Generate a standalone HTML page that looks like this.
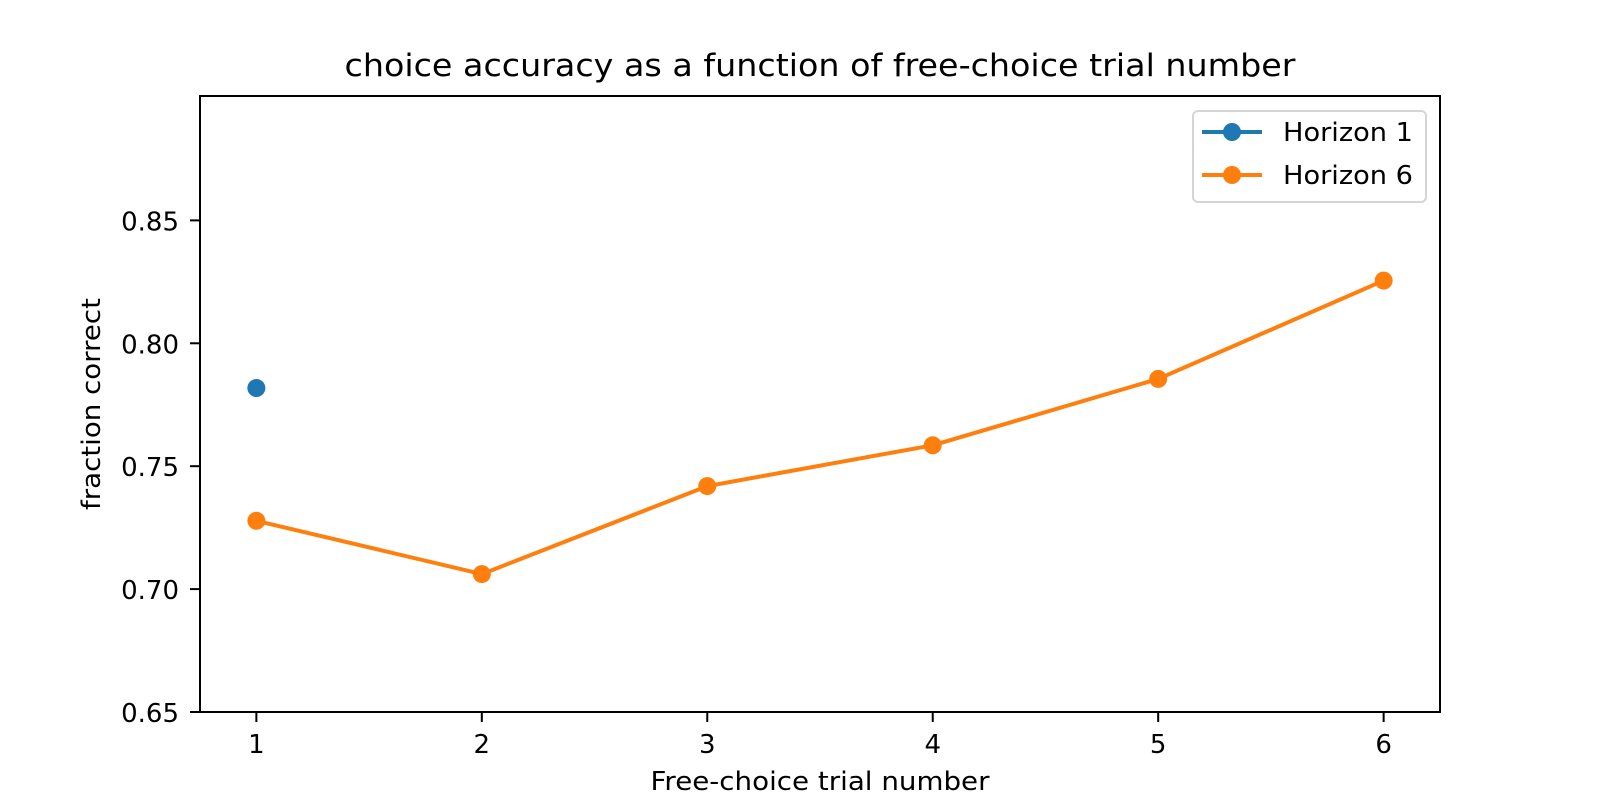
<!DOCTYPE html>
<html><head><meta charset="utf-8"><style>body{margin:0;background:#fff}svg{display:block}text{font-family:"DejaVu Sans","Liberation Sans",sans-serif;fill:#000}</style></head>
<body>
<svg id="chart" width="1600" height="800">
<rect x="0" y="0" width="1600" height="800" fill="#fff"/>
<g id="plot"></g>
<rect x="200" y="96" width="1240" height="616" fill="none" stroke="#000" stroke-width="2"/>
<text x="820" y="76" font-size="31" text-anchor="middle" textLength="951" lengthAdjust="spacingAndGlyphs">choice accuracy as a function of free-choice trial number</text>
<text x="820" y="790" font-size="26" text-anchor="middle" textLength="339" lengthAdjust="spacingAndGlyphs">Free-choice trial number</text>
<text transform="translate(100,404) rotate(-90)" font-size="26" text-anchor="middle" textLength="212" lengthAdjust="spacingAndGlyphs">fraction correct</text>
<g>
<rect x="1193" y="111" width="233" height="91" rx="5" fill="#fff" stroke="#d5d5d5" stroke-width="2"/>
<g>
<line x1="1202" y1="132" x2="1262" y2="132" stroke="#1f77b4" stroke-width="4"/>
<circle cx="1232" cy="132" r="9" fill="#1f77b4"/>
<text x="1283" y="141" font-size="26" textLength="130" lengthAdjust="spacingAndGlyphs">Horizon 1</text></g>
<g>
<line x1="1202" y1="175" x2="1262" y2="175" stroke="#ff7f0e" stroke-width="4"/>
<circle cx="1232" cy="175" r="9" fill="#ff7f0e"/>
<text x="1283" y="184" font-size="26" textLength="130" lengthAdjust="spacingAndGlyphs">Horizon 6</text></g>
</g>
</svg>
<script>
const categories=[1,2,3,4,5,6];
const horizon1=[0.7818];
const horizon6=[0.7278,0.7061,0.7419,0.7585,0.7855,0.8255];
const yTicks=[0.65,0.70,0.75,0.80,0.85];
const xTicks=[1,2,3,4,5,6];
const NS="http://www.w3.org/2000/svg";
const X0=200,X1=1440,Y0=712,Y1=96,xmin=0.75,xmax=6.25,ymin=0.65,ymax=0.9006;
const xs=v=>X0+(v-xmin)/(xmax-xmin)*(X1-X0);
const ys=v=>Y0-(v-ymin)/(ymax-ymin)*(Y0-Y1);
const g=document.getElementById('plot');
function el(t,a){const e=document.createElementNS(NS,t);for(const k in a)e.setAttribute(k,a[k]);g.appendChild(e);return e;}
xTicks.forEach(v=>{
const t=el('line',{x1:xs(v),x2:xs(v),y1:Y0,y2:Y0+10,stroke:'#000','stroke-width':2});


const l=el('text',{x:xs(v),y:Y0+41,'font-size':26,'text-anchor':'middle'});l.textContent=v;


});
yTicks.forEach(v=>{
const t=el('line',{x1:X0-10,x2:X0,y1:ys(v),y2:ys(v),stroke:'#000','stroke-width':2});


const l=el('text',{x:X0-21,y:ys(v)+10,'font-size':26,'text-anchor':'end'});l.textContent=v.toFixed(2);


});
const p=el('polyline',{points:horizon6.map((v,i)=>xs(categories[i])+','+ys(v)).join(' '),fill:'none',stroke:'#ff7f0e','stroke-width':4,'stroke-linejoin':'round'});


horizon6.forEach((v,i)=>{const c=el('circle',{cx:xs(categories[i]),cy:ys(v),r:9,fill:'#ff7f0e'});

});
horizon1.forEach((v,i)=>{const c=el('circle',{cx:xs(categories[i]),cy:ys(v),r:9,fill:'#1f77b4'});

});
</script>
</body></html>
